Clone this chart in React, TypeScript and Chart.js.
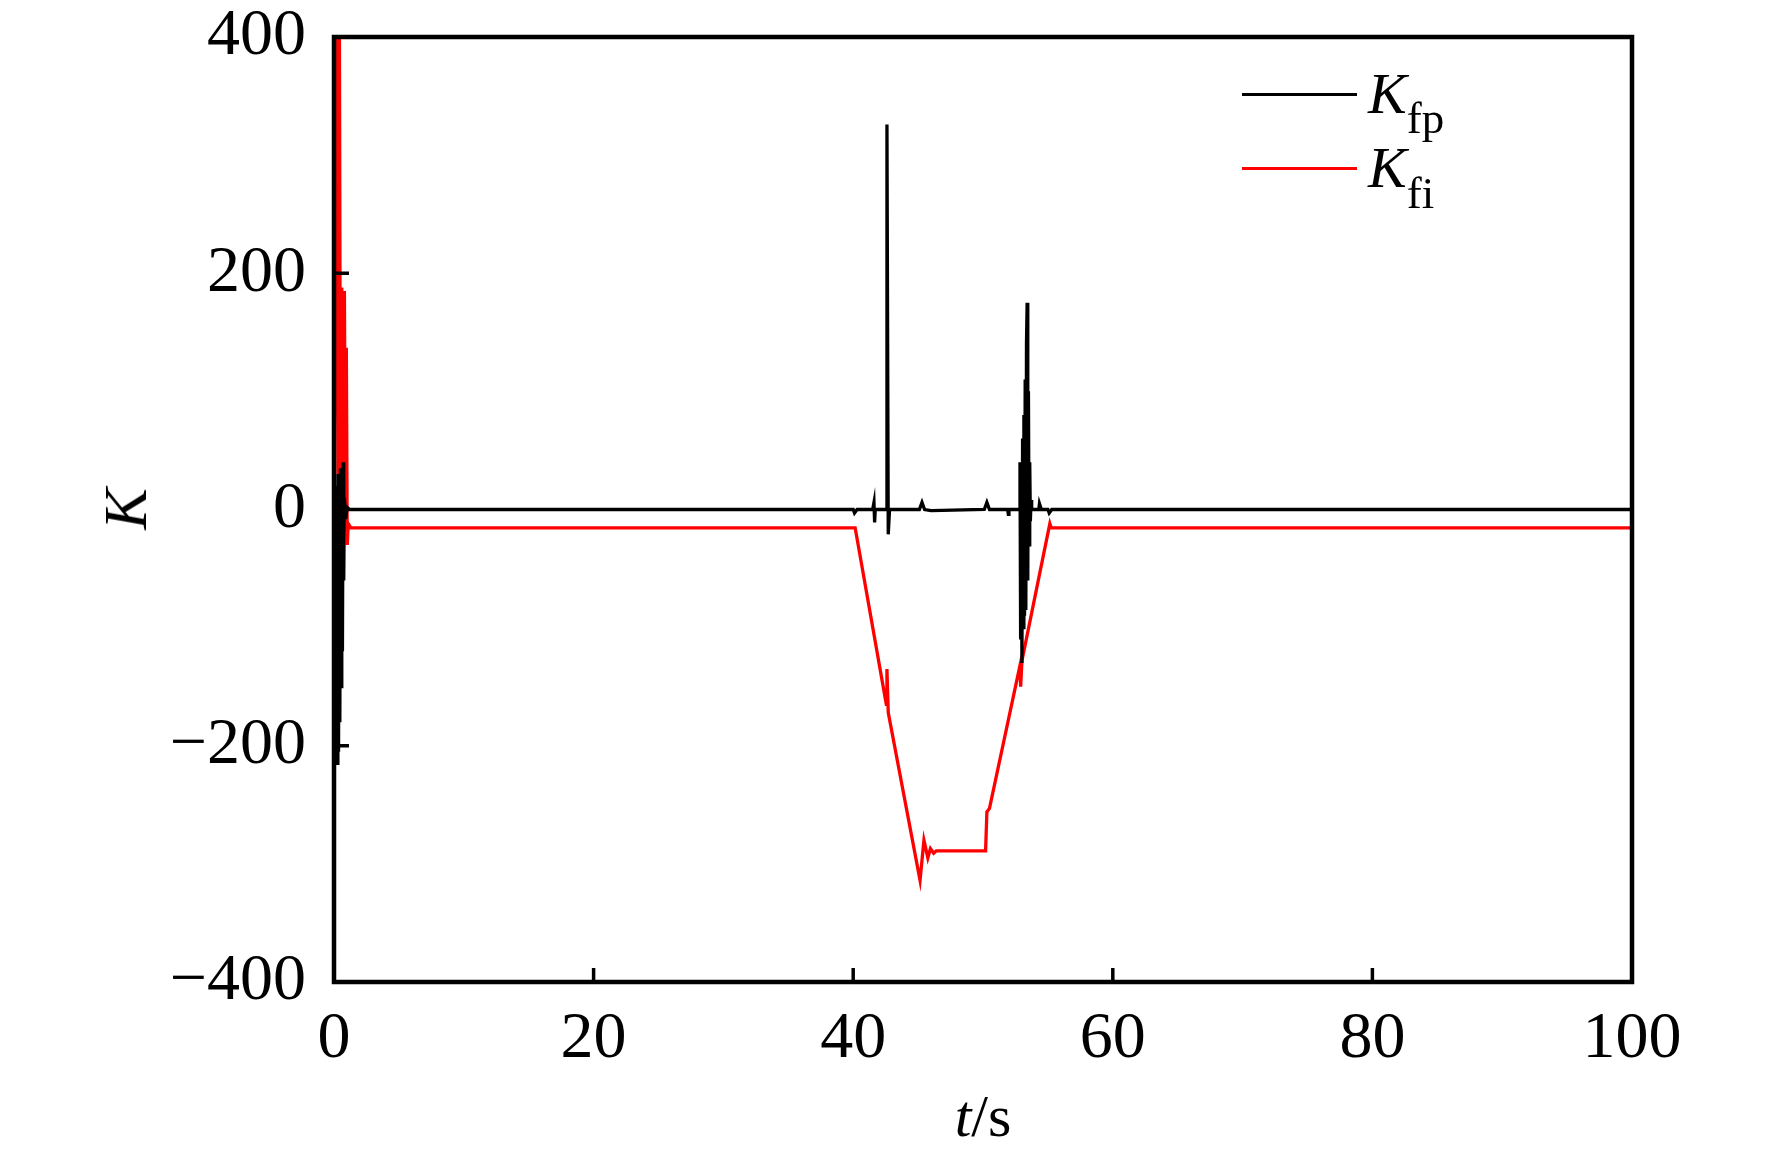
import React, { useEffect, useRef } from "react";
import { Chart, registerables } from "chart.js";

Chart.register(...registerables);

// ---- data ----
const fpT = [
  0, 0.05, 0.1, 0.15, 0.2, 0.25, 0.3, 0.35, 0.4, 0.45, 0.5, 0.55, 0.6, 0.65, 0.7, 0.75, 0.8, 0.9, 1.0, 1.2,
  40.0, 40.1, 40.3, 41.5, 41.6, 41.65, 41.7, 42.55, 42.6, 42.7, 42.8,
  45.1, 45.3, 45.5, 46.0, 50.1, 50.3, 50.5, 51.9, 51.95, 52.0, 52.8,
  52.85, 52.9, 52.95, 53.0, 53.05, 53.1, 53.15, 53.2, 53.25, 53.3, 53.35, 53.4, 53.45, 53.5, 53.55, 53.6, 53.65, 53.7, 53.75,
  54.3, 54.35, 54.5, 55.0, 55.1, 55.3, 100,
];
const fpK = [
  0, -160, 10, -190, 20, -215, 30, -205, 15, -180, 35, -150, 20, -120, 40, -60, 10, -8, 2, 0,
  0, -3, 0, 0, 6, -11, 0, 0, 326, -21, 0,
  0, 6, 0, -1, 0, 6, 0, 0, -4, 0, 0,
  40, -110, 38, -130, 60, -100, 80, -90, 110, -85, 140, 175, -60, 100, -30, 40, -10, 8, 0,
  0, 5, 0, 0, -3, 0, 0,
];

const fiT = [
  0, 0.1, 0.2, 0.3, 0.4, 0.5, 0.6, 0.7, 0.8, 0.88, 0.95, 1.02, 1.1, 1.3,
  40.15, 42.55, 42.6, 42.7, 45.15, 45.45, 45.75, 45.95, 46.2, 46.4, 50.2, 50.3, 50.5,
  52.85, 52.9, 53.0, 55.15, 55.25, 100,
];
const fiK = [
  0, 250, 520, 30, 480, 10, 188, 5, 185, 0, 137, -30, -12, -15.5,
  -15.5, -165, -135, -172, -314, -280, -295, -287, -291, -289, -289, -256, -253,
  -132, -150, -128, -12, -15.5, -15.5,
];

const xTicks = [0, 20, 40, 60, 80, 100];
const yTicks = [-400, -200, 0, 200, 400];

const FONT = "'Liberation Serif', 'Times New Roman', serif";

const fmt = (v: number) => (v < 0 ? "\u2212" + Math.abs(v) : String(v));

const framePlugin = {
  id: "frame",
  afterDatasetsDraw(chart: any) {
    const { ctx, chartArea: a, scales } = chart;
    ctx.save();
    ctx.strokeStyle = "#000";
    ctx.lineWidth = 4.5;
    ctx.strokeRect(a.left, a.top, a.right - a.left, a.bottom - a.top);
    ctx.lineWidth = 3.5;
    xTicks.forEach((v) => {
      const px = scales.x.getPixelForValue(v);
      ctx.beginPath();
      ctx.moveTo(px, a.bottom);
      ctx.lineTo(px, a.bottom - 14);
      ctx.stroke();
    });
    yTicks.forEach((v) => {
      const py = scales.y.getPixelForValue(v);
      ctx.beginPath();
      ctx.moveTo(a.left, py);
      ctx.lineTo(a.left + 15, py);
      ctx.stroke();
    });
    ctx.restore();
  },
};

export default function App() {
  const ref = useRef<HTMLCanvasElement | null>(null);

  useEffect(() => {
    document.body.style.margin = "0";
    const canvas = ref.current;
    if (!canvas) return;
    const chart = new Chart(canvas, {
      type: "line",
      data: {
        datasets: [
          {
            label: "Kfp",
            data: fpT.map((t, i) => ({ x: t, y: fpK[i] })),
            borderColor: "#000000",
            borderWidth: 3.3,
            pointRadius: 0,
            tension: 0,
            clip: 0,
          },
          {
            label: "Kfi",
            data: fiT.map((t, i) => ({ x: t, y: fiK[i] })),
            borderColor: "#ff0000",
            borderWidth: 3.3,
            pointRadius: 0,
            tension: 0,
            clip: 0,
          },
        ],
      },
      options: {
        animation: false,
        responsive: false,
        devicePixelRatio: 1,
        layout: { padding: { left: 0, top: 37, right: 140, bottom: 0 } },
        plugins: { legend: { display: false }, tooltip: { enabled: false } },
        scales: {
          x: {
            type: "linear",
            min: 0,
            max: 100,
            grid: { display: false, drawTicks: false },
            border: { display: false },
            afterBuildTicks: (s: any) => {
              s.ticks = xTicks.map((v) => ({ value: v }));
            },
            afterFit: (s: any) => {
              s.height = 175;
              s.paddingLeft = 0;
              s.paddingRight = 0;
            },
            ticks: {
              color: "#000",
              font: { family: FONT, size: 66, lineHeight: 1 },
              padding: 25,
              maxRotation: 0,
              autoSkip: false,
              callback: (v: any) => fmt(Number(v)),
            },
          },
          y: {
            type: "linear",
            min: -400,
            max: 400,
            grid: { display: false, drawTicks: false },
            border: { display: false },
            afterBuildTicks: (s: any) => {
              s.ticks = yTicks.map((v) => ({ value: v }));
            },
            afterFit: (s: any) => {
              s.width = 334;
              s.paddingTop = 0;
              s.paddingBottom = 0;
            },
            ticks: {
              color: "#000",
              font: { family: FONT, size: 66, lineHeight: 1 },
              padding: 28,
              autoSkip: false,
              callback: (v: any) => fmt(Number(v)),
            },
          },
        },
      },
      plugins: [framePlugin],
    } as any);
    return () => chart.destroy();
  }, []);

  const serif: React.CSSProperties = { fontFamily: FONT, color: "#000", lineHeight: 1, whiteSpace: "nowrap" };

  return (
    <div style={{ position: "relative", width: 1772, height: 1157, background: "#fff" }}>
      <canvas ref={ref} width={1772} height={1157} style={{ width: 1772, height: 1157, display: "block" }} />
      {/* y-axis title */}
      <div
        style={{
          ...serif,
          position: "absolute",
          left: 125,
          top: 509,
          fontSize: 62,
          fontStyle: "italic",
          transform: "translate(-50%, -50%) rotate(-90deg)",
        }}
      >
        K
      </div>
      {/* x-axis title */}
      <div
        style={{
          ...serif,
          position: "absolute",
          left: 983,
          top: 1086,
          fontSize: 60,
          transform: "translateX(-50%)",
        }}
      >
        <i>t</i>/s
      </div>
      {/* legend */}
      <div style={{ position: "absolute", left: 1242, top: 92.5, width: 115, height: 3, background: "#000" }} />
      <div style={{ position: "absolute", left: 1242, top: 166.5, width: 115, height: 3, background: "#ff0000" }} />
      <div style={{ ...serif, position: "absolute", left: 1368, top: 65, fontSize: 58 }}>
        <i>K</i>
        <span style={{ fontSize: 45, position: "relative", top: 20 }}>fp</span>
      </div>
      <div style={{ ...serif, position: "absolute", left: 1368, top: 139, fontSize: 58 }}>
        <i>K</i>
        <span style={{ fontSize: 45, position: "relative", top: 21 }}>fi</span>
      </div>
    </div>
  );
}
